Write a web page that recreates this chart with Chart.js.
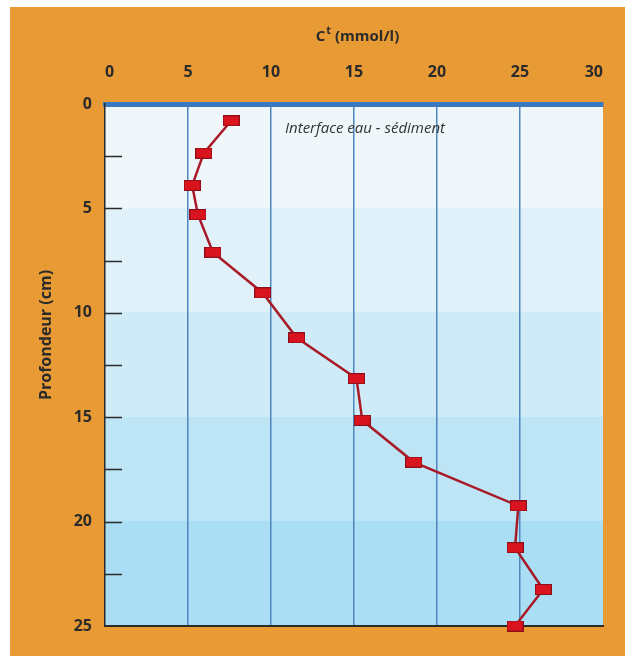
<!DOCTYPE html>
<html>
<head>
<meta charset="utf-8">
<script src="https://cdn.jsdelivr.net/npm/chart.js@4.4.1/dist/chart.umd.min.js"></script>
<style>
  html, body { margin: 0; padding: 0; background: #fff; }
  #panel { position: absolute; left: 10px; top: 7px; width: 615px; height: 649px; background: #e89a34; }
  #wrap { position: absolute; left: 0; top: 0; width: 625px; height: 656px; }
</style>
</head>
<body>
<div id="panel"></div>
<div id="wrap"><canvas id="profil"></canvas></div>
<script>
// concentration (mmol/l) vs profondeur (cm)
const concentration = [7.6, 5.95, 5.25, 5.6, 6.5, 9.5, 11.55, 15.15, 15.5, 18.6, 24.9, 24.7, 26.4, 24.7];
const profondeur   = [0.8, 2.35, 3.9, 5.3, 7.1, 9.05, 11.2, 13.15, 15.15, 17.15, 19.25, 21.25, 23.25, 25];

const xTicks = [0, 5, 10, 15, 20, 25, 30];
const yTicks = [0, 5, 10, 15, 20, 25];
const yMinorTicks = [2.5, 5, 7.5, 10, 12.5, 15, 17.5, 20, 22.5];

// depth bands, lighter near the surface
const bandEdges = [0, 5, 10, 15, 20, 25];
const bandColors = ["#f0f7fb", "#e0f1f9", "#cfebf7", "#bde5f5", "#a9def4"];

const FONT = "'Open Sans', 'DejaVu Sans', sans-serif";
const INK = "#2b2b2b";

// rectangular marker
function makeMarker() {
    const c = document.createElement("canvas");
    c.width = 17; c.height = 11;
    const g = c.getContext("2d");
    g.fillStyle = "#8e0f18";
    g.fillRect(0, 0, 17, 11);
    g.fillStyle = "#d9141f";
    g.fillRect(1, 1, 15, 9);
    return c;
}

const bands = {
    id: "bands",
    beforeDraw(chart) {
        const { ctx, chartArea: a, scales: { y } } = chart;
        ctx.save();
        for (let i = 0; i < bandColors.length; i++) {
            const y0 = Math.floor(y.getPixelForValue(bandEdges[i]));
            const y1 = Math.ceil(y.getPixelForValue(bandEdges[i + 1]));
            ctx.fillStyle = bandColors[i];
            ctx.fillRect(Math.floor(a.left), y0, Math.ceil(a.right - a.left), y1 - y0);
        }
        ctx.restore();
    }
};

const decor = {
    id: "decor",
    afterDatasetsDraw(chart) {
        const { ctx, chartArea: a, scales: { y } } = chart;
        ctx.save();
        // short ticks inside the plot along the depth axis
        ctx.strokeStyle = "#2a2a2a";
        ctx.lineWidth = 1.5;
        yMinorTicks.forEach(v => {
            const py = Math.round(y.getPixelForValue(v)) + 0.5;
            ctx.beginPath();
            ctx.moveTo(a.left, py);
            ctx.lineTo(a.left + 17, py);
            ctx.stroke();
        });

        ctx.fillStyle = "#333";
        ctx.font = "italic 15px " + FONT;
        ctx.textBaseline = "alphabetic";
        ctx.textAlign = "left";
        ctx.fillText("Interface eau - sédiment", a.left + 180, a.top + 29);
        ctx.restore();
    },
    afterDraw(chart) {
        const { ctx } = chart;
        ctx.save();
        ctx.fillStyle = INK;
        // axis title with superscript t
        ctx.textBaseline = "alphabetic";
        const main = "C", sup = "t", rest = " (mmol/l)";
        ctx.font = "bold 15px " + FONT;
        const wMain = ctx.measureText(main).width;
        const wRest = ctx.measureText(rest).width;
        ctx.font = "bold 11px " + FONT;
        const wSup = ctx.measureText(sup).width;
        let x = 357 - (wMain + wSup + wRest) / 2;
        ctx.font = "bold 15px " + FONT;
        ctx.fillText(main, x, 41);
        x += wMain;
        ctx.font = "bold 11px " + FONT;
        ctx.fillText(sup, x + 1, 34);
        x += wSup + 1;
        ctx.font = "bold 15px " + FONT;
        ctx.fillText(rest, x, 41);

        // depth title
        ctx.font = "bold 16px " + FONT;
        ctx.translate(46, 335);
        ctx.rotate(-Math.PI / 2);
        ctx.textAlign = "center";
        ctx.textBaseline = "middle";
        ctx.fillText("Profondeur (cm)", 0, 0);
        ctx.restore();
    }
};

new Chart(document.getElementById("profil"), {
    type: "scatter",
    data: {
        datasets: [{
            data: concentration.map((c, i) => ({ x: c, y: profondeur[i] })),
            showLine: true,
            borderColor: "#a81a28",
            borderWidth: 2.5,
            pointStyle: makeMarker(),
            clip: false
        }]
    },
    options: {
        responsive: true,
        maintainAspectRatio: false,
        animation: false,
        layout: { padding: { left: 10, right: 22, top: 0, bottom: 30 } },
        plugins: { legend: { display: false }, tooltip: { enabled: false } },
        scales: {
            x: {
                type: "linear",
                position: "top",
                min: 0,
                max: 30,
                afterBuildTicks: s => { s.ticks = xTicks.map(v => ({ value: v })); },
                afterFit: s => { s.height = 104; s.paddingLeft = 0; s.paddingRight = 0; },
                ticks: {
                    color: INK,
                    padding: 22,
                    align: "inner",
                    font: { family: FONT, size: 16, weight: "bold" }
                },
                grid: {
                    drawTicks: false,
                    lineWidth: 1.5,
                    color: ctx => (ctx.tick && (ctx.tick.value === 0 || ctx.tick.value === 30)) ? "rgba(0,0,0,0)" : "#4f86bf"
                },
                border: { color: "#3a78c2", width: 5 }
            },
            xBottom: {
                type: "linear",
                position: "bottom",
                min: 0,
                max: 30,
                afterFit: s => { s.height = 0; s.paddingLeft = 0; s.paddingRight = 0; },
                ticks: { display: false },
                grid: { display: false, drawTicks: false },
                border: { color: "#2a2a2a", width: 2 }
            },
            y: {
                type: "linear",
                reverse: true,
                min: 0,
                max: 25,
                afterBuildTicks: s => { s.ticks = yTicks.map(v => ({ value: v })); },
                afterFit: s => { s.width = 95; },
                ticks: {
                    color: INK,
                    padding: 13,
                    font: { family: FONT, size: 16, weight: "bold" }
                },
                grid: { display: false, drawTicks: false },
                border: { color: "#2a2a2a", width: 1.5 }
            }
        }
    },
    plugins: [bands, decor]
});
</script>
</body>
</html>
